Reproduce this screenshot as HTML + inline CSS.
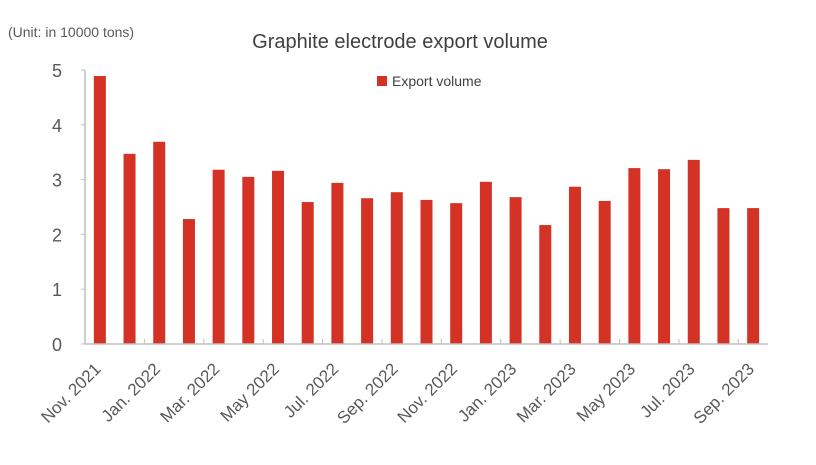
<!DOCTYPE html>
<html><head><meta charset="utf-8"><style>
body{margin:0;background:#fff;font-family:"Liberation Sans",sans-serif;}
</style></head><body>
<svg width="816" height="460" xmlns="http://www.w3.org/2000/svg">
<text x="8" y="37" font-size="14" fill="#595959">(Unit: in 10000 tons)</text>
<text x="400" y="48" font-size="20" fill="#404040" text-anchor="middle">Graphite electrode export volume</text>
<rect x="377" y="76" width="10" height="10" fill="#d33224"/>
<text x="392" y="86" font-size="14" fill="#404040">Export volume</text>
<g id="plot"></g>
</svg>
<script>
const categories=["Nov. 2021","Dec. 2021","Jan. 2022","Feb. 2022","Mar. 2022","Apr. 2022","May 2022","Jun. 2022","Jul. 2022","Aug. 2022","Sep. 2022","Oct. 2022","Nov. 2022","Dec. 2022","Jan. 2023","Feb. 2023","Mar. 2023","Apr. 2023","May 2023","Jun. 2023","Jul. 2023","Aug. 2023","Sep. 2023"];
const values=[4.89,3.47,3.69,2.28,3.18,3.05,3.16,2.59,2.94,2.66,2.77,2.63,2.57,2.96,2.68,2.17,2.87,2.61,3.21,3.19,3.36,2.48,2.48];
const yTicks=[0,1,2,3,4,5];
const NS="http://www.w3.org/2000/svg";
const g=document.getElementById('plot');
const x0=85,x1=768,yBase=344,yTop=70,yMax=5;
const bw=(x1-x0)/categories.length;
const y=v=>yBase-(v/yMax)*(yBase-yTop);
const xc=i=>x0+bw*(i+0.5);
function mk(t,a){const e=document.createElementNS(NS,t);for(const k in a)e.setAttribute(k,a[k]);g.appendChild(e);return e;}
yTicks.forEach(t=>{
 const l=mk('line',{x1:x0-4,x2:x0,y1:y(t),y2:y(t),stroke:'#bfbfbf'});
 
 
 const tx=mk('text',{x:62,y:y(t)+7,'font-size':18,fill:'#595959','text-anchor':'end'});
 tx.textContent=t;
 
 
});
values.forEach((v,i)=>{
 const r=mk('rect',{x:xc(i)-6,y:y(v),width:12,height:yBase-y(v),fill:'#d33224'});
 
 
});
for(let i=0;i<=categories.length;i+=2){
 const l=mk('line',{x1:x0+bw*i,x2:x0+bw*i,y1:yBase,y2:yBase-5,stroke:'#bfbfbf'});
 
 
}
categories.forEach((c,i)=>{
 if(i%2)return;
 const t=mk('text',{x:xc(i)+2,y:yBase+26,'font-size':17,fill:'#595959','text-anchor':'end',transform:`rotate(-45 ${xc(i)+2} ${yBase+26})`});
 t.textContent=c;
 
 
});
const ax=mk('line',{x1:x0,x2:x0,y1:yTop,y2:yBase,stroke:'#bfbfbf','stroke-width':1.5});


const bx=mk('line',{x1:x0,x2:x1,y1:yBase,y2:yBase,stroke:'#bfbfbf','stroke-width':1.5});


</script>
</body></html>
